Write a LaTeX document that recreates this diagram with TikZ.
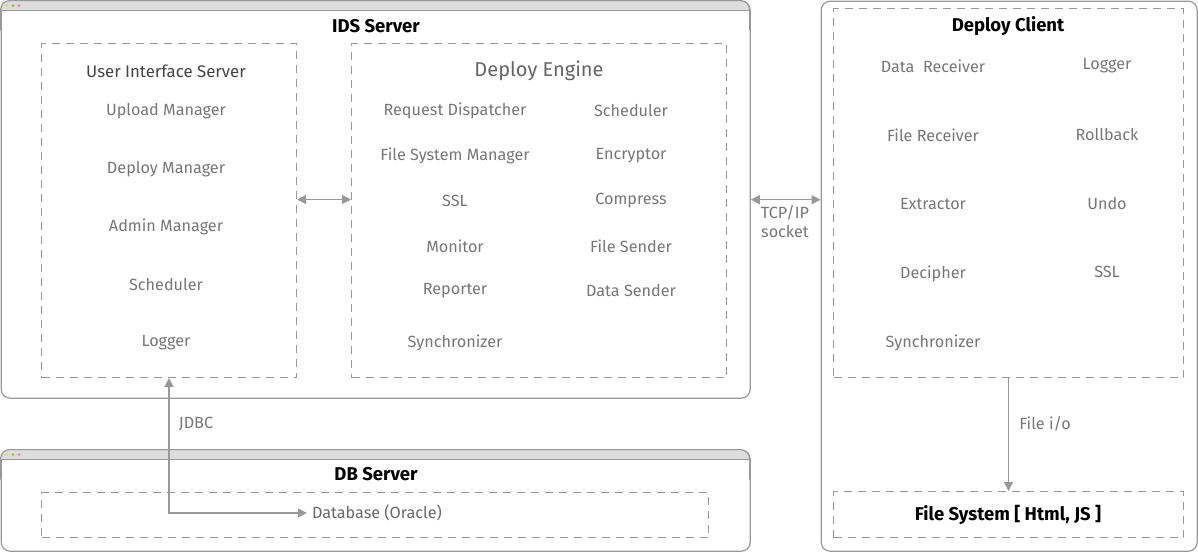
\documentclass[tikz,border=0pt]{standalone}
\usepackage{fontspec}
\setmainfont{Fira Sans}
\usetikzlibrary{positioning,arrows.meta,calc}

\definecolor{frame}{HTML}{999999}
\definecolor{bar}{HTML}{DDDDDD}
\definecolor{itemtext}{HTML}{777777}
\definecolor{headtext}{HTML}{444444}
\definecolor{dotyellow}{HTML}{F2D43C}
\definecolor{dotgreen}{HTML}{8CC63F}
\definecolor{dotred}{HTML}{F08A8A}

\begin{document}
\begin{tikzpicture}[
    x=1pt, y=-1pt,
    window/.style={rectangle, draw=frame, line width=1.2pt, rounded corners=9pt, anchor=north west, inner sep=0pt},
    dashbox/.style={rectangle, draw=frame, line width=1pt, dash pattern=on 8pt off 6pt, anchor=north west, inner sep=0pt},
    title/.style={font=\fontsize{18.5}{21}\selectfont\bfseries, text=black},
    subtitle/.style={font=\fontsize{16.8}{20}\selectfont, text=headtext},
    item/.style={font=\fontsize{16.2}{19}\selectfont, text=itemtext, inner sep=1pt},
    link/.style={draw=frame, line width=1.2pt, >={Triangle[length=9pt,width=9pt]}},
]
\useasboundingbox (0,0) rectangle (1198,552);

% Windows
\node[window, minimum width=749pt, minimum height=397pt] (ids) at (0.6,0.6) {};
\node[window, minimum width=749pt, minimum height=101pt] (dbs) at (0.6,449.6) {};
\node[window, minimum width=376pt, minimum height=550pt] (client) at (820.6,0.6) {};

% Title bars
\foreach \w/\top in {ids/0.6, dbs/449.6} {
  \begin{scope}
    \clip[rounded corners=9pt] (0.6,\top) rectangle (749.6,\top+30);
    \fill[bar] (0.6,\top) rectangle (749.6,\top+10);
  \end{scope}
  \draw[frame, line width=1.2pt] (0.6,\top+10) -- (749.6,\top+10);
  \draw[frame, line width=1.2pt, rounded corners=9pt] (0.6,\top+30) -- (0.6,\top) -- (749.6,\top) -- (749.6,\top+30);
  \fill[dotyellow] (7,\top+5) circle (1.6);
  \fill[dotgreen] (13,\top+5) circle (1.6);
  \fill[dotred] (19,\top+5) circle (1.6);
}

% Inner dashed boxes
\node[dashbox, minimum width=255pt, minimum height=334pt] (uis) at (41,43) {};
\node[dashbox, minimum width=375pt, minimum height=334pt] (engine) at (351,43) {};
\node[dashbox, minimum width=350pt, minimum height=369pt] (clin) at (833,8) {};
\node[dashbox, minimum width=350pt, minimum height=46pt] (fs) at (833,491) {};
\node[dashbox, minimum width=667pt, minimum height=45pt] (dbin) at (41,492) {};

% Titles
\node[title] (idst) at (376,26) {IDS Server};
\node[title] (dbst) at (376,474) {DB Server};
\node[title] (clientt) at (1008,26) {Deploy Client};
\node[title] (fst) at (1008,515) {File System [ Html, JS ]};
\node[subtitle] (uist) at (166,71) {User Interface Server};
\node[subtitle, font=\fontsize{20}{23}\selectfont, text=itemtext!85!black] (enginet) at (539,71) {Deploy Engine};

% User Interface Server
\node[item] (upload) at (166,111) {Upload Manager};
\node[item] (deploy) at (166,169) {Deploy Manager};
\node[item] (admin) at (166,227) {Admin Manager};
\node[item] (sched) at (166,285) {Scheduler};
\node[item] (log) at (166,343) {Logger};

% Deploy Engine
\node[item] (reqd) at (455,111) {Request Dispatcher};
\node[item] (fsm) at (455,156) {File System Manager};
\node[item] (ssl) at (455,201) {SSL};
\node[item] (mon) at (455,246) {Monitor};
\node[item] (rep) at (455,291) {Reporter};
\node[item] (sync) at (455,343) {Synchronizer};
\node[item] (esched) at (631,111) {Scheduler};
\node[item] (enc) at (631,156) {Encryptor};
\node[item] (comp) at (631,201) {Compress};
\node[item] (fsend) at (631,246) {File Sender};
\node[item] (dsend) at (631,291) {Data Sender};

% Deploy Client
\node[item] (drecv) at (933,66) {Data~~Receiver};
\node[item] (frecv) at (933,135) {File Receiver};
\node[item] (extr) at (933,204) {Extractor};
\node[item] (deci) at (933,274) {Decipher};
\node[item] (csync) at (933,343) {Synchronizer};
\node[item] (clog) at (1107,66) {Logger};
\node[item] (roll) at (1107,135) {Rollback};
\node[item] (undo) at (1107,204) {Undo};
\node[item] (cssl) at (1107,272) {SSL};

% Database
\node[item, text=headtext!80!white] (db) at (377,513) {Database (Oracle)};

% Arrows
\draw[link,<->] ([yshift=11pt]uis.east) -- ([yshift=11pt]engine.west);
\draw[link,<->] (ids.east) -- (ids.east -| client.west);
\draw[link,->] (clin.south) -- (fs.north);
\draw[link,<->] (uis.south) |- ([xshift=-4pt]db.west);

% Labels
\node[item, align=center] (tcp) at (785,222) {TCP/IP\\socket};
\node[item] (fio) at (1045,424) {File i/o};
\node[item] (jdbc) at (196,424) {JDBC};

\end{tikzpicture}
\end{document}
